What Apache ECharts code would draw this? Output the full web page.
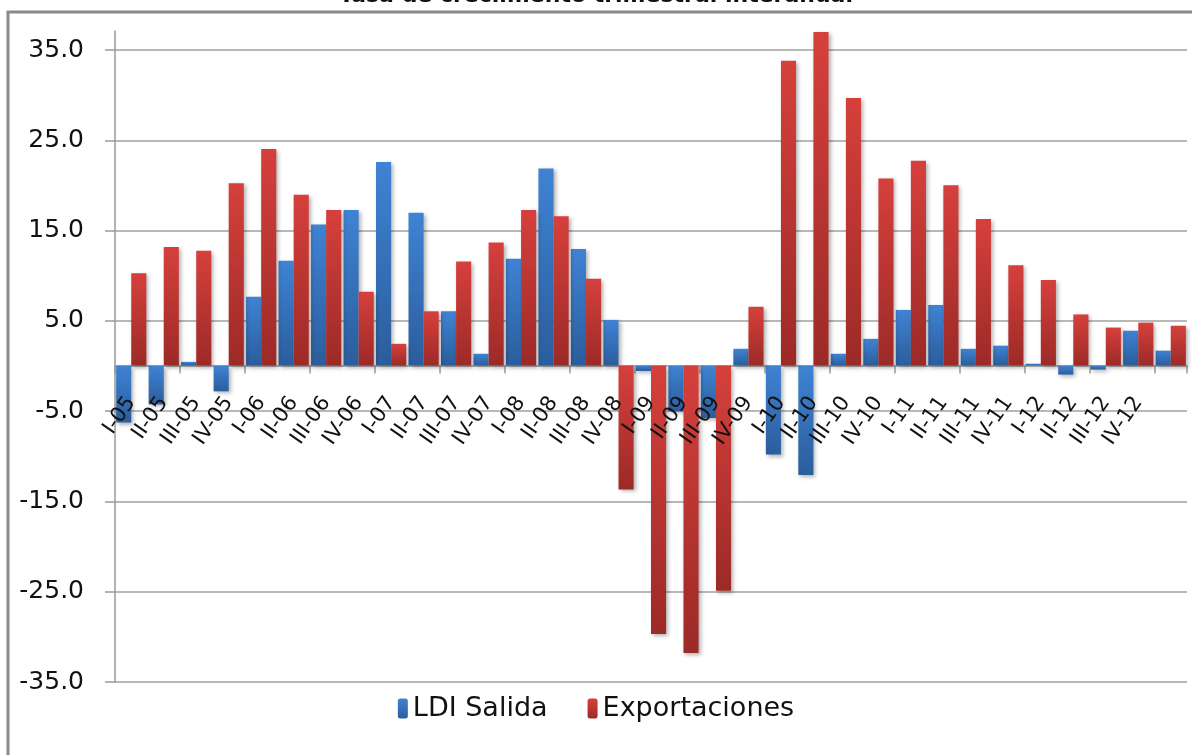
<!DOCTYPE html>
<html>
<head>
<meta charset="utf-8">
<script src="https://cdn.jsdelivr.net/npm/echarts@6/dist/echarts.min.js"></script>
<style>
html,body{margin:0;padding:0;background:#fff;}
#chart{width:1192px;height:755px;}
</style>
</head>
<body>
<div id="chart"></div>
<script>
const titleText = 'Tasa de crecimiento trimestral interanual';
const categories = ['I-05','II-05','III-05','IV-05','I-06','II-06','III-06','IV-06',
  'I-07','II-07','III-07','IV-07','I-08','II-08','III-08','IV-08',
  'I-09','II-09','III-09','IV-09','I-10','II-10','III-10','IV-10',
  'I-11','II-11','III-11','IV-11','I-12','II-12','III-12','IV-12',''];
const ldiSalida = [-6.3,-4.3,0.4,-2.85, 7.6,11.6,15.6,17.2, 22.5,16.9,6.0,1.3,
  11.8,21.8,12.9,5.05, -0.6,-5.05,-5.8,1.85, -9.85,-12.1,1.3,2.95,
  6.15,6.7,1.85,2.2, 0.2,-1.0,-0.45,3.85, 1.65];
const exportaciones = [10.2,13.1,12.7,20.15, 23.95,18.9,17.2,8.15, 2.4,6.0,11.5,13.6,
  17.2,16.5,9.6,-13.7, -29.7,-31.8,-24.9,6.5, 33.7,36.9,29.6,20.7,
  22.65,19.95,16.2,11.1, 9.45,5.65,4.2,4.75, 4.4];
const yTicksMin = -35, yTicksMax = 35, yTickStep = 10, yAxisTop = 37;

const font = 'DejaVu Sans';
function grad(top, bottom){
  return new echarts.graphic.LinearGradient(0,0,0,1,[{offset:0,color:top},{offset:1,color:bottom}]);
}
const chart = echarts.init(document.getElementById('chart'));
chart.setOption({
  backgroundColor:'#fff',
  animation:false,
  title:{text:titleText,left:'center',top:-20,textStyle:{fontFamily:font,fontSize:22,fontWeight:'bold',color:'#111'}},
  legend:{bottom:28,left:'center',itemWidth:10,itemHeight:20,itemGap:40,
    textStyle:{fontFamily:font,fontSize:27,color:'#111'},
    data:['LDI Salida','Exportaciones']},
  graphic:[{type:'polyline',shape:{points:[[8,755],[8,12],[1192,12]]},
    style:{stroke:'#8a8a8a',lineWidth:3,fill:null},silent:true}],
  grid:[
    {left:115,right:5,top:31,bottom:73},
    {left:115,right:5,top:50,bottom:73},
    {left:115,right:5,top:31,bottom:389}
  ],
  xAxis:[
    {type:'category',gridIndex:0,data:categories,
      axisLine:{onZero:true,lineStyle:{color:'#9a9a9a',width:1.5}},
      axisTick:{show:true,length:8,lineStyle:{color:'#9a9a9a',width:1.5}},
      axisLabel:{show:false}},
    {type:'category',gridIndex:1,data:categories,show:false},
    {type:'category',gridIndex:2,data:categories,position:'bottom',z:20,
      axisLine:{show:false},axisTick:{show:false},
      axisLabel:{interval:0,rotate:55,margin:33,fontFamily:font,fontSize:21,color:'#111',hideOverlap:false}}
  ],
  yAxis:[
    {type:'value',gridIndex:0,min:yTicksMin,max:yAxisTop,
      axisLine:{show:true,lineStyle:{color:'#9a9a9a',width:1.5}},
      axisTick:{show:false},axisLabel:{show:false},splitLine:{show:false}},
    {type:'value',gridIndex:1,min:yTicksMin,max:yTicksMax,interval:yTickStep,
      axisLine:{show:false},
      axisTick:{show:true,length:10,lineStyle:{color:'#9a9a9a',width:1.5}},
      axisLabel:{margin:31,fontFamily:font,fontSize:25,color:'#111',formatter:v=>v.toFixed(1)},
      splitLine:{show:true,lineStyle:{color:'#a0a0a0',width:1.5}}},
    {type:'value',gridIndex:2,show:false}
  ],
  series:[
    {name:'LDI Salida',type:'bar',xAxisIndex:0,yAxisIndex:0,data:ldiSalida,
      barGap:'0%',barCategoryGap:'7%',
      itemStyle:{color:grad('#3f83d4','#2b5d9c'),shadowBlur:4,shadowOffsetX:2,shadowOffsetY:2,shadowColor:'rgba(0,0,0,0.3)'}},
    {name:'Exportaciones',type:'bar',xAxisIndex:0,yAxisIndex:0,data:exportaciones,
      barGap:'0%',barCategoryGap:'7%',
      itemStyle:{color:grad('#d6403c','#9c2a27'),shadowBlur:4,shadowOffsetX:2,shadowOffsetY:2,shadowColor:'rgba(0,0,0,0.3)'}}
  ]
});
</script>
</body>
</html>
